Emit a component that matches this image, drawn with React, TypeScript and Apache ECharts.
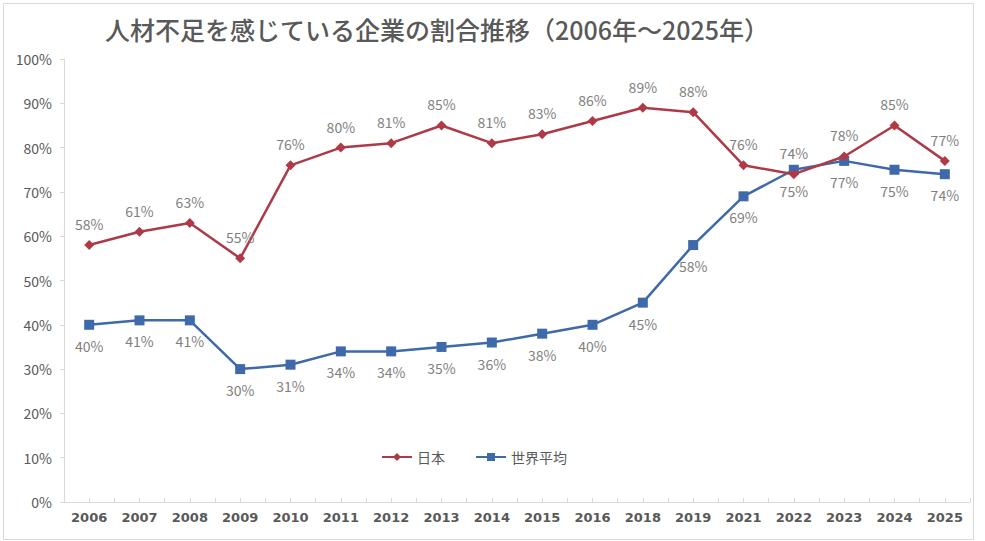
import React, { useEffect, useRef } from "react";
import * as echarts from "echarts";

const titleText = "人材不足を感じている企業の割合推移（2006年～2025年）";
const years = ["2006", "2007", "2008", "2009", "2010", "2011", "2012", "2013", "2014", "2015", "2016", "2018", "2019", "2021", "2022", "2023", "2024", "2025"];
const japan = [58, 61, 63, 55, 76, 80, 81, 85, 81, 83, 86, 89, 88, 76, 74, 78, 85, 77];
const world = [40, 41, 41, 30, 31, 34, 34, 35, 36, 38, 40, 45, 58, 69, 75, 77, 75, 74];
const seriesNames = ["日本", "世界平均"];

const FONT = "'Noto Sans CJK JP', 'Noto Sans', sans-serif";

export default function App() {
  const ref = useRef<HTMLDivElement>(null);
  useEffect(() => {
    document.body.style.margin = "0";
    const chart = echarts.init(ref.current!, null, { renderer: "svg" });
    chart.setOption({
      animation: false,
      backgroundColor: "#ffffff",
      textStyle: { fontFamily: FONT },
      title: {
        text: titleText,
        left: 100,
        top: 11,
        textStyle: { fontFamily: FONT, fontSize: 25, fontWeight: 500, color: "#595959" },
      },
      graphic: [
        {
          type: "rect",
          shape: { x: 3.5, y: 3.5, width: 970, height: 536 },
          style: { fill: "none", stroke: "#d9d9d9", lineWidth: 1 },
          silent: true,
        },
      ],
      legend: {
        data: seriesNames,
        left: 376,
        top: 445,
        itemWidth: 30,
        itemHeight: 10,
        itemGap: 30,
        textStyle: { fontFamily: FONT, fontSize: 14, color: "#595959" },
      },
      grid: { left: 64, right: 15, top: 59, bottom: 39, containLabel: false },
      xAxis: [
        {
          type: "category",
          data: years,
          boundaryGap: true,
          axisLine: { lineStyle: { color: "#d9d9d9", width: 1 } },
          axisTick: { show: true, alignWithLabel: false, inside: true, length: 4, lineStyle: { color: "#d9d9d9" } },
          axisLabel: {
            interval: 0,
            margin: 9,
            fontFamily: "'DejaVu Sans', sans-serif",
            fontWeight: "bold",
            fontSize: 13,
            color: "#595959",
          },
        },
        {
          type: "category",
          data: years,
          position: "bottom",
          boundaryGap: true,
          axisLine: { show: false },
          axisTick: { show: true, alignWithLabel: true, inside: true, length: 4, interval: 0, lineStyle: { color: "#d9d9d9" } },
          axisLabel: { show: false },
        },
      ],
      yAxis: {
        type: "value",
        min: 0,
        max: 100,
        interval: 10,
        splitLine: { show: false },
        axisLine: { show: true, lineStyle: { color: "#d9d9d9" } },
        axisTick: { show: true, length: 4, lineStyle: { color: "#d9d9d9" } },
        axisLabel: {
          formatter: "{value}%",
          margin: 12,
          fontFamily: FONT,
          fontSize: 14,
          color: "#595959",
        },
      },
      series: [
        {
          name: seriesNames[0],
          type: "line",
          data: japan,
          color: "#AE3A48",
          symbol: "diamond",
          symbolSize: 10,
          lineStyle: { width: 2.5, color: "#AE3A48" },
          itemStyle: { color: "#AE3A48" },
          label: {
            show: true,
            position: "top",
            distance: 9,
            formatter: "{c}%",
            fontFamily: FONT,
            fontSize: 14,
            color: "#7f7f7f",
          },
          z: 3,
        },
        {
          name: seriesNames[1],
          type: "line",
          data: world,
          color: "#3E6AAB",
          symbol: "rect",
          symbolSize: 10,
          lineStyle: { width: 2.5, color: "#3E6AAB" },
          itemStyle: { color: "#3E6AAB" },
          label: {
            show: true,
            position: "bottom",
            distance: 9,
            formatter: "{c}%",
            fontFamily: FONT,
            fontSize: 14,
            color: "#7f7f7f",
          },
          z: 2,
        },
      ],
    });
    return () => chart.dispose();
  }, []);
  return (
    <div
      ref={ref}
      style={{ position: "absolute", left: 0, top: 0, width: 985, height: 541 }}
    />
  );
}
